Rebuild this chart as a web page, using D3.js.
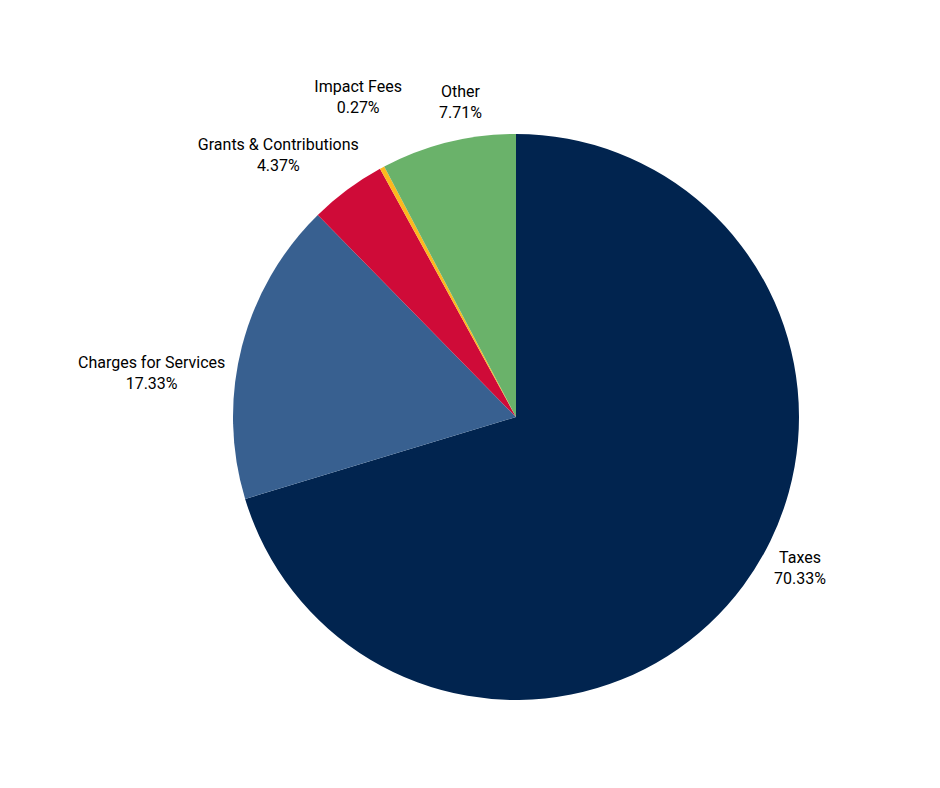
<!DOCTYPE html>
<html>
<head>
<meta charset="utf-8">
<script src="https://cdn.jsdelivr.net/npm/d3@7"></script>
<style>
  body { margin: 0; background: #ffffff; }
</style>
</head>
<body>
<svg id="chart" width="940" height="788"></svg>
<script>
// revenue sources pie

const categories = ["Taxes", "Charges for Services", "Grants & Contributions", "Impact Fees", "Other"];
const shares = [70.33, 17.33, 4.37, 0.27, 7.71];
const sliceColours = ["#01244f", "#386090", "#cf0b38", "#fdb81e", "#6ab26a"];
// small hand nudges so labels sit where the original placed them
const labelNudge = [[11, -57], [-35, 35], [-35, 6], [3, -25], [26, 10]];

const svg = d3.select("#chart");
const cx = 516, cy = 417, radius = 283, labelRadius = 340;

const data = categories.map((c, i) => ({ name: c, value: shares[i], i: i }));

const pie = d3.pie()
        .value(d => d.value)
        .sort(null);

const arc = d3.arc()
        .innerRadius(0)
        .outerRadius(radius);

const labelArc = d3.arc()
        .innerRadius(labelRadius)
        .outerRadius(labelRadius);

const g = svg.append("g")
        .attr("transform", "translate(" + cx + "," + cy + ")");

const arcs = pie(data);

g.selectAll("path.slice")
        .data(arcs)
        .enter()
        .append("path")
        .attr("class", "slice")
        .attr("d", arc)
        .attr("fill", d => sliceColours[d.data.i]);

const labels = g.selectAll("text.lbl")
        .data(arcs)
        .enter()
        .append("text")
        .attr("class", "lbl")
        .attr("transform", d => {
                const p = labelArc.centroid(d);
                const n = labelNudge[d.data.i];
                return "translate(" + (p[0] + n[0]) + "," + (p[1] + n[1]) + ")";
        })
        .attr("text-anchor", "middle")
        .attr("font-family", "Roboto, sans-serif")
        .attr("font-size", "16px")
        .attr("fill", "#000000");

labels.append("tspan")
        .attr("x", 0)
        .attr("y", 0)
        .text(d => d.data.name);

labels.append("tspan")
        .attr("x", 0)
        .attr("y", 21)
        .text(d => d.data.value.toFixed(2) + "%");
</script>
</body>
</html>
